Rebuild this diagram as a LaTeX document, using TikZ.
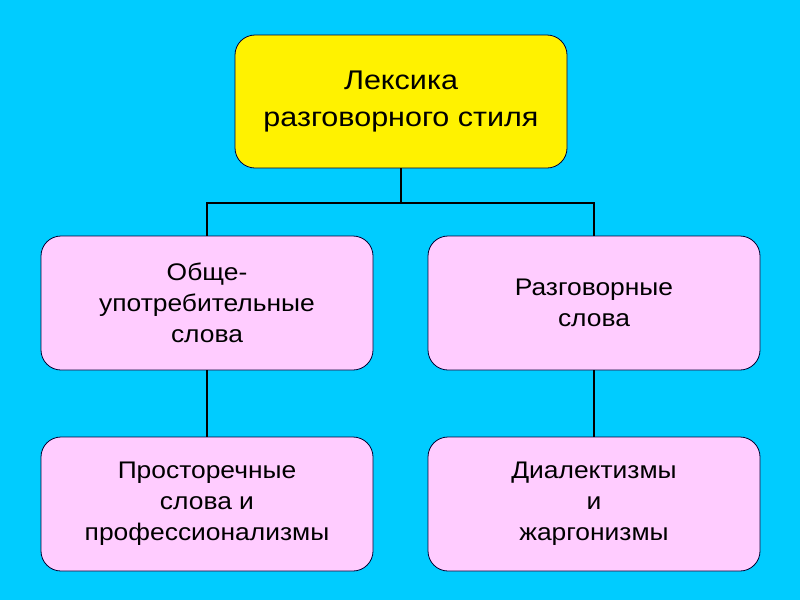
\documentclass[tikz,border=0pt]{standalone}
\usepackage{fontspec}
\setmainfont{Liberation Sans}
\newfontfamily\topfont[FakeStretch=1.13]{Liberation Sans}
\newfontfamily\pinkfont[FakeStretch=1.1]{Liberation Sans}
\begin{document}
\begin{tikzpicture}[x=1pt,y=-1pt,
  box/.style={draw=black!80!blue, line width=0.8pt, rounded corners=20pt, align=center, inner sep=0pt},
  topbox/.style={box, fill=yellow, minimum width=332pt, minimum height=133pt, font=\topfont\fontsize{27}{37}\selectfont},
  pinkbox/.style={box, fill={rgb,255:red,255;green,204;blue,255}, minimum width=332pt, minimum height=134pt, font=\pinkfont\fontsize{24}{31}\selectfont},
  conn/.style={draw=black, line width=1.6pt}]
\definecolor{bgcyan}{RGB}{0,204,255}
\fill[bgcyan] (0,0) rectangle (800,600);
\useasboundingbox (0,0) rectangle (800,600);
\node[topbox] (top) at (401,101.5) {Лексика\\разговорного стиля};
\node[pinkbox] (a) at (207,303) {Обще-\\употребительные\\слова};
\node[pinkbox] (b) at (594,303) {Разговорные\\слова};
\node[pinkbox] (c) at (207,504) {Просторечные\\слова и\\профессионализмы};
\node[pinkbox] (d) at (594,504) {Диалектизмы\\и\\жаргонизмы};
\coordinate (j) at (401,203);
\draw[conn] (top.south) -- (j);
\draw[conn] (a.north) |- (j) -| (b.north);
\draw[conn] (a.south) -- (c.north);
\draw[conn] (b.south) -- (d.north);
\end{tikzpicture}
\end{document}
